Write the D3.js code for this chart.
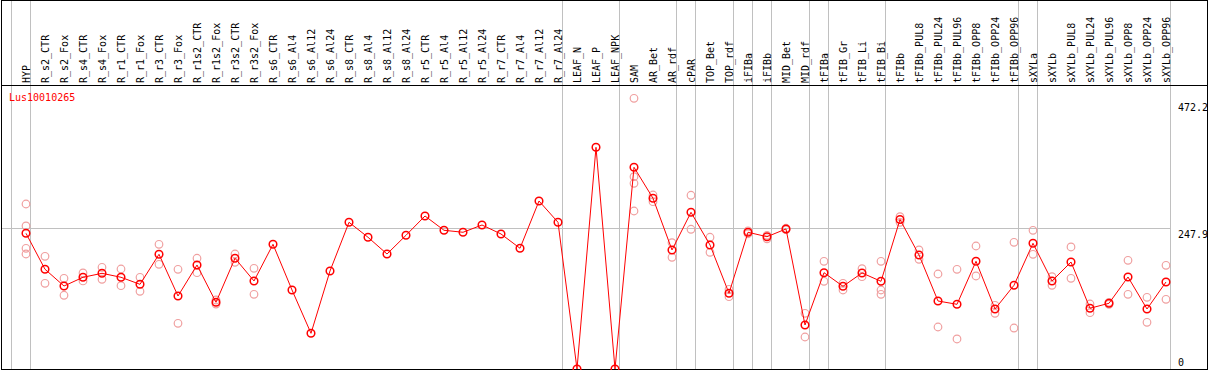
<!DOCTYPE html>
<html>
<head>
<meta charset="utf-8">
<script src="https://cdn.jsdelivr.net/npm/d3@7"></script>
<style>
  body { margin: 0; background: #fff; }
  text { font-family: "DejaVu Sans Mono", monospace; font-size: 10px; }
</style>
</head>
<body>
<div id="chart"></div>
<script>
// gene profile across samples
const geneName = "Lus10010265";

const samples = ["HYP", "R_s2_CTR", "R_s2_Fox", "R_s4_CTR", "R_s4_Fox", "R_r1_CTR", "R_r1_Fox",
  "R_r3_CTR", "R_r3_Fox", "R_r1s2_CTR", "R_r1s2_Fox", "R_r3s2_CTR", "R_r3s2_Fox", "R_s6_CTR",
  "R_s6_Al4", "R_s6_Al12", "R_s6_Al24", "R_s8_CTR", "R_s8_Al4", "R_s8_Al12", "R_s8_Al24",
  "R_r5_CTR", "R_r5_Al4", "R_r5_Al12", "R_r5_Al24", "R_r7_CTR", "R_r7_Al4", "R_r7_Al12",
  "R_r7_Al24", "LEAF_N", "LEAF_P", "LEAF_NPK", "SAM", "AR_Bet", "AR_rdf", "cPAR", "TOP_Bet",
  "TOP_rdf", "iFIBa", "iFIBb", "MID_Bet", "MID_rdf", "tFIBa", "tFIB_Gr", "tFIB_Li", "tFIB_Bi",
  "tFIBb", "tFIBb_PUL8", "tFIBb_PUL24", "tFIBb_PUL96", "tFIBb_OPP8", "tFIBb_OPP24", "tFIBb_OPP96",
  "sXYLa", "sXYLb", "sXYLb_PUL8", "sXYLb_PUL24", "sXYLb_PUL96", "sXYLb_OPP8", "sXYLb_OPP24",
  "sXYLb_OPP96"];

const means = [239.1, 175.7, 146.2, 161.6, 168.6, 161.6, 149.2,
  202.1, 128.6, 183.2, 117.5, 195.1, 155.1, 219.7,
  139.2, 62.9, 172.7, 258.5, 232.1, 202.6, 235.6,
  269.6, 244.4, 240.9, 253.7, 237.9, 212.7, 296.0,
  258.5, 0, 390.6, 0, 355.4, 300.8, 209.7, 276.1, 218.5,
  133.4, 240.9, 233.1, 246.7, 77.5, 169.7, 145.7, 169.2, 154.5,
  263.4, 200.9, 119.8, 114.0, 189.8, 105.7, 147.5,
  221.5, 155.1, 188.5, 107.0, 115.8, 162.1, 105.7,
  153.3];

const replicates = [
  [290.7, 252.0, 212.7, 202.6], [198.6, 151.0], [159.8, 129.9], [169.2, 155.1], [179.2, 158.1],
  [176.2, 146.8], [161.6, 136.9], [219.7, 184.5], [175.7, 80.5], [195.1, 169.7], [121.6, 114.5],
  [202.6, 188.0], [177.4, 131.6],
  [], [], [], [], [], [], [], [], [], [], [], [], [], [], [], [], [], [], [],
  [477.0, 338.8, 327.2, 278.4], [306.6, 294.8], [222.5, 196.8], [306.1, 246.2], [232.1, 205.6],
  [140.4, 127.4], [243.5, 238.3], [235.6, 229.4], [248.0, 245.4], [98.1, 56.4], [189.8, 154.5],
  [151.0, 139.2], [176.7, 162.6], [189.8, 139.2, 131.6], [268.4, 258.4], [209.7, 193.3],
  [167.4, 74.0], [175.7, 52.9], [216.7, 163.9], [112.2, 98.1], [223.2, 72.2], [244.4, 202.1],
  [162.6, 147.5], [215.0, 159.8], [114.5, 99.2], [117.5, 114.0], [191.5, 131.6], [126.3, 82.3],
  [182.7, 122.8]
];

// samples that start a new group (vertical separators)
const groupStarts = ["HYP", "R_s2_CTR", "LEAF_N", "SAM", "cPAR", "TOP_Bet", "iFIBa", "iFIBb",
  "MID_Bet", "tFIBa", "tFIB_Gr", "tFIBb", "sXYLa", "sXYLb"];

const yTicks = [0, 247.9, 472.2];
const gridValues = [247.9];

const width = 1209;
const height = 370;
const headerY = 85;

const svg = d3.select("#chart")
    .append("svg")
    .attr("width", width)
    .attr("height", height);

const xScale = d3.scalePoint()
    .domain(samples)
    .range([26, 26 + 19 * (samples.length - 1)]);
const step = xScale.step();

const yScale = d3.scaleLinear()
    .domain([0, 472.2])
    .range([369, 101]);

//gray separators
const sepX = groupStarts.map(s => xScale(s) - 14.5);
sepX.push(xScale(samples[samples.length - 1]) + step - 14.5);
svg.selectAll(".sep")
    .data(sepX)
    .join("line")
    .attr("x1", d => d).attr("x2", d => d)
    .attr("y1", 0).attr("y2", height)
    .attr("stroke", "#c0c0c0")
    .attr("stroke-width", 1);

//gridline
svg.selectAll(".grid")
    .data(gridValues)
    .join("line")
    .attr("x1", 1).attr("x2", sepX[sepX.length - 1])
    .attr("y1", d => Math.round(yScale(d)) + 0.5)
    .attr("y2", d => Math.round(yScale(d)) + 0.5)
    .attr("stroke", "#c0c0c0");

//frame
svg.append("rect")
    .attr("x", 1.5).attr("y", 0.5)
    .attr("width", 1206).attr("height", 369)
    .attr("fill", "none")
    .attr("stroke", "black");
svg.append("line")
    .attr("x1", 1).attr("x2", 1208)
    .attr("y1", headerY + 0.5).attr("y2", headerY + 0.5)
    .attr("stroke", "black");

//sample labels
svg.selectAll(".lab")
    .data(samples)
    .join("text")
    .attr("transform", d => `translate(${xScale(d)}, 83) rotate(-90)`)
    .attr("dy", "0.35em")
    .attr("fill", "black")
    .text(d => d);

//y labels
svg.selectAll(".ylab")
    .data(yTicks)
    .join("text")
    .attr("x", 1178)
    .attr("y", d => Math.min(yScale(d) + 10, 366))
    .attr("fill", "black")
    .text(d => d);

svg.append("text")
    .attr("x", 9)
    .attr("y", 101)
    .attr("fill", "red")
    .text(geneName);

//replicate circles
const repPoints = [];
replicates.forEach((arr, i) => {
    arr.forEach(v => repPoints.push({s: samples[i], v: v}));
});
svg.selectAll(".rep")
    .data(repPoints)
    .join("circle")
    .attr("cx", d => xScale(d.s))
    .attr("cy", d => yScale(d.v))
    .attr("r", 3.8)
    .attr("fill", "none")
    .attr("stroke", "#f0a0a0")
    .attr("stroke-width", 1.2);

//mean line
const makeLine = d3.line()
    .x((d, i) => xScale(samples[i]))
    .y(d => yScale(d));
svg.append("path")
    .attr("d", makeLine(means))
    .attr("fill", "none")
    .attr("stroke", "red")
    .attr("stroke-width", 1);

svg.selectAll(".mean")
    .data(means)
    .join("circle")
    .attr("cx", (d, i) => xScale(samples[i]))
    .attr("cy", d => yScale(d))
    .attr("r", 3.8)
    .attr("fill", "none")
    .attr("stroke", "red")
    .attr("stroke-width", 1.5);
</script>
</body>
</html>
